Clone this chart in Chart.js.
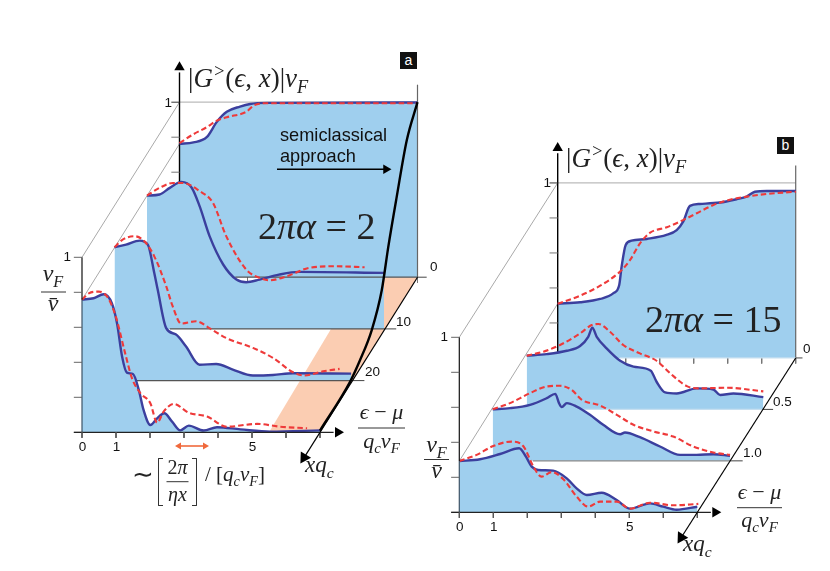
<!DOCTYPE html>
<html>
<head>
<meta charset="utf-8">
<title>Green function slices</title>
<script src="https://cdn.jsdelivr.net/npm/chart.js@4/dist/chart.umd.min.js"></script>
<style>
  html, body { margin: 0; padding: 0; background: #fff; }
  #wrap { position: relative; width: 830px; height: 571px; overflow: hidden; }
  #fig { display: block; }
  .t { position: absolute; white-space: nowrap; line-height: 1; color: #222; }
  .sans { font-family: "Liberation Sans", sans-serif; font-size: 13.5px; color: #111; }
  .math { font-family: "Liberation Serif", serif; font-style: italic; }
  .up { font-style: normal; }
  .math sub, .math sup { line-height: 0; font-size: 0.68em; }
  .badge { position: absolute; background: #111; color: #fff; text-align: center; font: 14px/17px "Liberation Sans", sans-serif; width: 17px; height: 17px; }
</style>
</head>
<body>
<div id="wrap"><canvas id="fig" width="830" height="571"></canvas></div>
<script>
// each curve is a list of [(eps-mu)/(qc vF), |G|vF]

// panel a, 2 pi alpha = 2, slices at x qc = 0, 10, 20, 30
const aDepths = [0, 10, 20, 30];
const aSolid0 = [[0,.762],[.41,.77],[.8,.8],[1.1,.888],[1.39,.945],[1.78,.975],[2.08,.99],[2.57,.996],[7,.998]];
const aDash0 = [[0,.766],[.41,.817],[.8,.857],[1.1,.895],[1.39,.914],[1.98,.947],[2.18,.981],[2.57,.994],[7,.994]];
const aSolid10 = [[0,.762],[.37,.768],[.67,.806],[1.01,.84],[1.31,.808],[1.55,.7],[1.84,.53],[2.24,.368],[2.63,.282],[2.92,.267],[3.31,.282],[3.88,.31],[4.47,.326],[6.97,.32]];
const aDash10 = [[0,.762],[.37,.806],[.76,.834],[1.06,.834],[1.55,.787],[1.94,.72],[2.33,.53],[2.92,.339],[3.31,.291],[3.61,.278],[4.1,.3],[4.78,.349],[5.57,.358],[6.4,.352]];
const aSolid20 = [[0,.762],[.34,.777],[.74,.8],[.98,.777],[1.17,.615],[1.27,.52],[1.52,.3],[1.81,.263],[2.1,.196],[2.5,.091],[2.99,.095],[3.48,.063],[4.07,.029],[4.66,.032],[5.25,.042],[6.96,.04]];
const aDash20 = [[0,.762],[.24,.806],[.59,.825],[.88,.796],[1.17,.71],[1.52,.54],[1.71,.425],[1.96,.326],[2.4,.339],[2.79,.3],[3.28,.244],[4.07,.187],[4.66,.13],[5.25,.048],[5.59,.029],[6.13,.053],[6.62,.067]];
const aSolid30 = [[0,.758],[.34,.766],[.64,.789],[.88,.737],[1.03,.623],[1.18,.432],[1.32,.341],[1.5,.333],[1.67,.242],[1.81,.128],[2.01,.042],[2.21,.08],[2.42,.109],[2.65,.061],[2.89,.011],[3.14,.038],[3.58,.01],[3.97,.029],[4.66,.017],[5.54,.004],[7.01,.011]];
const aDash30 = [[0,.758],[.2,.794],[.49,.804],[.74,.775],[.98,.67],[1.27,.451],[1.47,.309],[1.72,.223],[2.01,.166],[2.21,.055],[2.4,.118],[2.7,.162],[3.14,.112],[3.68,.09],[4.26,.032],[5.15,.048],[5.83,.032],[6.62,.023]];
// semiclassical edge along eps = 7: [x qc, |G|vF], front to back
const aEdge = [[30,.01],[20.8,.015],[17.7,.048],[14.1,.113],[11,.25],[9,.438],[6.4,.648],[3.3,.88],[0,1]];

// panel b, 2 pi alpha = 15, slices at x qc = 0, 0.5, 1.0, 1.5
const bDepths = [0, .5, 1, 1.5];
const bSolid0 = [[0,.31],[.66,.318],[1.25,.337],[1.64,.37],[1.81,.417],[1.88,.522],[2,.646],[2.17,.67],[2.62,.68],[3.2,.703],[3.5,.731],[3.69,.779],[3.89,.869],[4.18,.88],[4.77,.888],[5.26,.907],[5.56,.922],[5.8,.95],[6.15,.954],[7.01,.954]];
const bDash0 = [[0,.31],[.66,.356],[1.25,.413],[1.83,.493],[2.13,.56],[2.42,.655],[2.72,.716],[3.21,.747],[3.7,.789],[4.09,.827],[4.58,.874],[5.17,.909],[5.56,.922],[6.15,.937],[7.01,.95]];
const bSolid05 = [[0,.307],[.59,.316],[1.18,.335],[1.57,.362],[1.81,.415],[1.93,.467],[2.06,.415],[2.35,.349],[2.75,.278],[3.14,.244],[3.65,.221],[3.82,.158],[4.07,.097],[4.41,.091],[5,.12],[5.49,.114],[5.69,.082],[6.08,.091],[6.96,.07]];
const bDash05 = [[0,.307],[.49,.33],[.98,.368],[1.57,.434],[1.91,.482],[2.11,.488],[2.45,.444],[2.84,.368],[3.33,.32],[3.82,.278],[4.22,.206],[4.71,.133],[5.1,.12],[5.88,.124],[6.96,.103]];
const bSolid10 = [[0,.295],[.51,.301],[1.1,.32],[1.59,.358],[1.84,.383],[1.95,.33],[2.03,.307],[2.18,.33],[2.47,.31],[2.86,.263],[3.25,.206],[3.75,.152],[3.89,.162],[4.33,.135],[4.92,.082],[5.51,.034],[6,.034],[6.49,.038],[6.98,.029]];
const bDash10 = [[0,.295],[.51,.33],[1.1,.387],[1.59,.425],[1.98,.429],[2.32,.406],[2.62,.349],[3.16,.316],[3.65,.263],[4.14,.206],[4.73,.168],[5.31,.139],[5.9,.082],[6.49,.048],[6.98,.034]];
const bSolid15 = [[0,.293],[.61,.303],[1.2,.333],[1.76,.366],[1.96,.318],[2.13,.261],[2.32,.242],[2.76,.238],[3.16,.194],[3.45,.137],[3.75,.099],[4.19,.112],[4.63,.07],[5.02,.021],[5.61,.051],[6,.032],[6.39,.015],[7,.032]];
const bDash15 = [[0,.293],[.51,.328],[1,.379],[1.54,.404],[1.88,.379],[2.18,.261],[2.42,.204],[2.72,.23],[3.06,.189],[3.45,.09],[3.79,.032],[4.14,.061],[4.63,.061],[5.02,.021],[5.61,.055],[6.29,.04],[7.03,.048]];

const epsTicks = [0, 1, 2, 3, 4, 5, 6, 7];
const epsTickLabels = ['0', '1', '', '', '', '5', '', ''];
const ampTicks = [0, .2, .4, .6, .8, 1];
const aDepthLabels = ['0', '10', '20'];
const bDepthLabels = ['0', '0.5', '1.0'];

const BLUE = '#9fcfee', INK = '#3b3f9e', RED = '#ee3a3a', PEACH = '#fbcdb2', GREY = '#a9a9a9', DARK = '#555', PALE = '#c6dff0';

// projection of the 3d box on the page
const panelA = { x0: 82, y0: 432.3, ux: 34, uy: 175, dx: 3.25, dy: 5.17, far: 30, nudge: [0, 0, 0, 0], from: [1.64, .67, .64], to: [7.27, 7.33, 7.35], floor: [DARK, DARK, DARK] };
const panelB = { x0: 459.3, y0: 512.3, ux: 34, uy: 175, dx: 65.6, dy: 102.9, far: 1.5, nudge: [0, 1.8, .6, 0], from: [1.83, 1.67, 1.2], to: [7.2, 7.3, 7.37], floor: [PALE, PALE, '#888'] };

function project(p, depth, eps, amp, nudge) {
    const back = p.far - depth;
    return { x: p.x0 + p.ux * eps + p.dx * back + (nudge || 0), y: p.y0 - p.uy * amp - p.dy * back };
}

const datasets = [];

function add(ds) {
    // chart.js paints the highest order first, so this keeps painting in push order
    datasets.push(Object.assign({ order: -datasets.length, pointRadius: 0, clip: false, fill: false, borderWidth: 1, borderColor: '#000', tension: 0 }, ds));
}

function line(points, color, width, dash) {
    add({ data: points, borderColor: color, borderWidth: width || 1, borderDash: dash || [] });
}

function arrowHead(at, rotation, size, color) {
    add({ data: [at], pointRadius: size, pointStyle: 'triangle', pointRotation: rotation, pointBackgroundColor: color || '#000', pointBorderWidth: 0, showLine: false });
}

function drawPanel(p, depths, solids, dashes, arrowRot) {
    const back = depths[0], front = depths[3];
    const P = (d, e, a) => project(p, d, e, a);

    // box edges running back in depth, behind all fills
    line([P(front, 0, 1), P(back, 0, 1)], GREY);
    line([P(front, 0, solids[3][0][1]), P(back, 0, solids[0][0][1])], GREY);
    line([P(back, 0, 1), P(back, 7, 1)], '#bbb', 1.2);

    // tall back axis and its ticks are hidden by the nearer slices where they cross
    solids.forEach((curve, i) => {
        const d = depths[i], n = p.nudge[i];
        const pts = curve.map(c => project(p, d, c[0], c[1], n));
        const base = project(p, d, 0, 0).y;
        add({ data: pts, fill: { value: base }, backgroundColor: BLUE, borderWidth: 0, borderColor: BLUE, cubicInterpolationMode: 'monotone' });

        if (i === 0) {
            line([P(back, 7, 0), P(back, 7, 1.1)], '#666', 1.2);
            line([P(back, 0, 0), P(back, 0, 1.17)], '#000', 1.4);
            arrowHead(P(back, 0, 1.2), 0, 6);
            ampTicks.forEach(a => line([P(back, -.24, a), P(back, 0, a)], a === 1 ? '#333' : '#777'));
            epsTicks.slice(1).forEach(e => line([P(back, e, 0), P(back, e, -.032)], '#777'));
        } else {
            // floor line of the slice behind shows through above this one
            const behind = depths[i - 1];
            line([P(behind, p.from[i - 1], 0), P(behind, 7, 0)], p.floor[i - 1], 1.2);
            line([P(behind, 7, 0), P(behind, p.to[i - 1], 0)], '#444', 1);
        }

        add({ data: pts, borderColor: INK, borderWidth: 2.4, cubicInterpolationMode: 'monotone' });
        add({ data: dashes[i].map(c => project(p, d, c[0], c[1], n)), borderColor: RED, borderWidth: 2.1, borderDash: [5.5, 3], cubicInterpolationMode: 'monotone' });
    });

    // front axes
    line([P(front, 0, solids[3][0][1]), P(front, 0, 1)], '#111', 1.2);
    line([P(front, 0, 0), P(front, 0, solids[3][0][1])], '#3c5366', 1.2);
    ampTicks.forEach(a => line([P(front, -.24, a), P(front, 0, a)], '#666'));
    line([P(front, -.24, 0), P(front, 7.4, 0)], '#222', 1.2);
    arrowHead(P(front, 7.53, 0), 90, 6);
    epsTicks.forEach(e => line([P(front, e, 0), P(front, e, -.032)], '#555'));

    // depth axis
    const tip = project(p, p.far * 1.163, 7, 0);
    line([P(back, 7, 0), tip], '#000', 1.2);
    arrowHead(tip, arrowRot, 7);
}

// peach shadow of the semiclassical region, goes under the blue of panel a:
// filled between its upper outline and its lower outline
add({
    data: [project(panelA, 30, 5.5, 0), project(panelA, 0, 5.37, 0), project(panelA, 0, 7, 0)],
    fill: '+1', backgroundColor: PEACH, borderWidth: 0, borderColor: PEACH
});
add({
    data: [project(panelA, 30, 5.5, 0), project(panelA, 30, 7, 0), project(panelA, 0, 7, 0)],
    borderWidth: 0
});

drawPanel(panelA, aDepths, [aSolid0, aSolid10, aSolid20, aSolid30], [aDash0, aDash10, aDash20, aDash30], 212);
drawPanel(panelB, bDepths, [bSolid0, bSolid05, bSolid10, bSolid15], [bDash0, bDash05, bDash10, bDash15], 212);

// semiclassical curve
add({ data: aEdge.map(c => project(panelA, c[0], 7, c[1])), borderColor: '#000', borderWidth: 2.4, cubicInterpolationMode: 'monotone' });

// semiclassical arrow
line([{ x: 277, y: 169.3 }, { x: 384, y: 169.3 }], '#000', 1.6);
arrowHead({ x: 386, y: 169.3 }, 90, 5.5);

// orange range arrow under the front slice of panel a
line([{ x: 178, y: 446 }, { x: 206, y: 446 }], '#f0693c', 1.6);
arrowHead({ x: 179, y: 446 }, 270, 4, '#f0693c');
arrowHead({ x: 205, y: 446 }, 90, 4, '#f0693c');

// square bracket and fraction strokes of the width label
line([{ x: 163, y: 458.5 }, { x: 158.5, y: 458.5 }, { x: 158.5, y: 505.5 }, { x: 163, y: 505.5 }], '#333', 1);
line([{ x: 192, y: 458.5 }, { x: 196.5, y: 458.5 }, { x: 196.5, y: 505.5 }, { x: 192, y: 505.5 }], '#333', 1);
line([{ x: 166.5, y: 481.7 }, { x: 188.5, y: 481.7 }], '#333', 1);
line([{ x: 358, y: 428 }, { x: 405, y: 428 }], '#333', 1);
line([{ x: 41, y: 292 }, { x: 66, y: 292 }], '#333', 1);
line([{ x: 737, y: 507.7 }, { x: 782, y: 507.7 }], '#333', 1);
line([{ x: 424, y: 459.5 }, { x: 449, y: 459.5 }], '#333', 1);

new Chart(document.getElementById('fig'), {
    type: 'line',
    data: { datasets: datasets },
    options: {
        responsive: false,
        animation: false,
        events: [],
        layout: { padding: 0, autoPadding: false },
        plugins: { legend: { display: false }, tooltip: { enabled: false } },
        scales: {
            x: { type: 'linear', min: 0, max: 830, display: false },
            y: { type: 'linear', min: 0, max: 571, reverse: true, display: false }
        }
    }
});

// text goes on top as plain html, anchored on its baseline
const wrap = document.getElementById('wrap');

function label(html, x, baseline, size, cls, align) {
    const el = document.createElement('div');
    el.className = 't ' + (cls || 'math');
    el.innerHTML = html;
    if (size) el.style.fontSize = size + 'px';
    el.style.left = x + 'px';
    el.style.top = (baseline - (size || 13.5) * 0.86) + 'px';
    if (align === 'c') el.style.transform = 'translateX(-50%)';
    if (align === 'r') el.style.transform = 'translateX(-100%)';
    wrap.appendChild(el);
}

function badge(text, x, y) {
    const el = document.createElement('div');
    el.className = 'badge';
    el.textContent = text;
    el.style.left = x + 'px';
    el.style.top = y + 'px';
    wrap.appendChild(el);
}

const GFUNC = '<span class="up">|</span>G<sup>&gt;</sup><span class="up">(</span>ϵ<span class="up">,</span> x<span class="up">)|</span>v<sub>F</sub>';

function tickText(p, ticks, labels, baseline) {
    ticks.forEach((e, i) => {
        if (labels[i]) label(labels[i], project(p, p.far, e, 0).x + .5, baseline, 13.5, 'sans', 'c');
    });
}

// panel a text
label(GFUNC, 188, 88, 27);
badge('a', 400, 52);
label('semiclassical', 280, 141.5, 18.2, 'sans');
label('approach', 280, 162.5, 18.2, 'sans');
label('<span class="up">2</span>πα <span class="up">= 2</span>', 258, 240, 38);
label('1', 172, 107.5, 13.5, 'sans', 'r');
label('1', 71, 262, 13.5, 'sans', 'r');
tickText(panelA, epsTicks, epsTickLabels, 452);
label(aDepthLabels[0], 430, 272, 13.5, 'sans');
label(aDepthLabels[1], 396, 327, 13.5, 'sans');
label(aDepthLabels[2], 365, 377, 13.5, 'sans');
label('v<sub>F</sub>', 53, 282, 24, 'math', 'c');
label('v̄', 53, 311.5, 24, 'math', 'c');
label('ϵ <span class="up">−</span> μ', 381.5, 420, 22, 'math', 'c');
label('q<sub>c</sub>v<sub>F</sub>', 381.5, 449, 22, 'math', 'c');
label('xq<sub>c</sub>', 305, 473, 23);
label('<span class="up">∼</span>', 132, 484, 26);
label('<span class="up">2</span>π', 177.5, 474, 20, 'math', 'c');
label('ηx', 177.5, 501.5, 20, 'math', 'c');
label('<span class="up">/ [</span>q<sub>c</sub>v<sub>F</sub><span class="up">]</span>', 205, 482, 21);

// panel b text
label(GFUNC, 566, 168, 27);
badge('b', 777, 137);
label('<span class="up">2</span>πα <span class="up">= 15</span>', 645, 333, 38);
label('1', 551, 188, 13.5, 'sans', 'r');
label('1', 448, 342, 13.5, 'sans', 'r');
tickText(panelB, epsTicks, epsTickLabels, 532);
label(bDepthLabels[0], 803, 354, 13.5, 'sans');
label(bDepthLabels[1], 773, 407, 13.5, 'sans');
label(bDepthLabels[2], 743, 458, 13.5, 'sans');
label('v<sub>F</sub>', 436.5, 453, 24, 'math', 'c');
label('v̄', 436.5, 479, 24, 'math', 'c');
label('ϵ <span class="up">−</span> μ', 759.5, 500, 22, 'math', 'c');
label('q<sub>c</sub>v<sub>F</sub>', 759.5, 528, 22, 'math', 'c');
label('xq<sub>c</sub>', 683, 552, 23);
</script>
</body>
</html>
